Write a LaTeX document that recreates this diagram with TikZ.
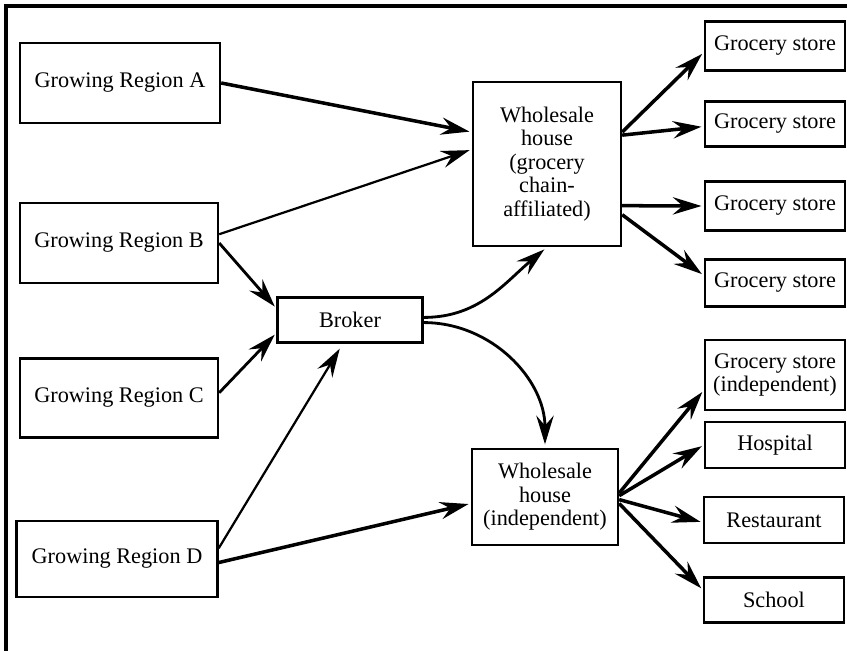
\documentclass[tikz,border=0pt]{standalone}
\usepackage{fontspec}
\setmainfont{Liberation Serif}
\usepackage{tikz}
\usetikzlibrary{arrows.meta}

\begin{document}
\begin{tikzpicture}[x=0.03cm, y=0.03cm,
  box/.style={rectangle, draw, line width=2pt, align=center, font=\fontsize{19}{20}\selectfont, inner sep=2pt},
  outlet/.style={box, minimum width=4.2cm},
  >={Stealth[length=8.6mm, width=5.2mm, inset=3mm]},
  heavy/.style={->, line width=3pt, shorten >=2pt},
  mid/.style={->, line width=2.4pt, shorten >=2pt},
  light/.style={->, line width=1.9pt, shorten >=2pt}
]
  \useasboundingbox (0,0) rectangle (847,-651);
  \draw[line width=3pt] (6,-651) -- (6,-6) -- (847,-6);

  \node[box, minimum width=6cm, minimum height=2.4cm] (regionA) at (120,-83) {Growing Region A};
  \node[box, minimum width=5.94cm, minimum height=2.4cm] (regionB) at (119,-243) {Growing Region B};
  \node[box, minimum width=5.94cm, minimum height=2.37cm] (regionC) at (119,-398) {Growing Region C};
  \node[box, minimum width=6.03cm, minimum height=2.28cm] (regionD) at (117,-559) {Growing Region D};
  \node[box, minimum width=4.35cm, minimum height=1.35cm] (broker) at (350,-320) {Broker};
  \node[box, minimum width=4.44cm, minimum height=4.92cm] (chain) at (547,-164) {Wholesale\\house\\(grocery\\chain-\\affiliated)};
  \node[box, minimum width=4.38cm, minimum height=2.88cm] (indep) at (545,-497) {Wholesale\\house\\(independent)};

  \node[outlet, minimum height=1.47cm] (store1) at (775,-46) {Grocery store};
  \node[outlet, minimum height=1.35cm] (store2) at (775,-124) {Grocery store};
  \node[outlet, minimum height=1.47cm] (store3) at (775,-206) {Grocery store};
  \node[outlet, minimum height=1.41cm] (store4) at (775,-283) {Grocery store};
  \node[outlet, minimum height=2.1cm] (storeInd) at (775,-375) {Grocery store\\(independent)};
  \node[outlet, minimum height=1.38cm] (hospital) at (775,-445) {Hospital};
  \node[outlet, minimum height=1.38cm] (restaurant) at (774,-520) {Restaurant};
  \node[outlet, minimum height=1.35cm] (school) at (774,-600) {School};

  \draw[heavy] (regionA.east) -- (chain.157);
  \draw[light] (regionB.5) -- (chain.169);
  \draw[mid] (regionB.east) -- (broker.171);
  \draw[mid] (regionC.3) -- (broker.190);
  \draw[light, shorten >=5pt] (regionD.6) -- (broker.253);
  \draw[heavy] (regionD.358) -- (indep.185);
  \draw[mid, shorten >=3pt] (broker.2) to[out=0, in=-140] (chain.south);
  \draw[mid, shorten >=3pt] (broker.358) to[out=0, in=90] (indep.north);

  \draw[heavy] (chain.23) -- (store1.185);
  \draw[heavy] (chain.21) -- (store2.182);
  \draw[heavy] (chain.-29) -- (store3.west);
  \draw[heavy] (chain.-34) -- (store4.174);
  \draw[heavy] (indep.3) -- (storeInd.192);
  \draw[heavy] (indep.1) -- (hospital.west);
  \draw[heavy] (indep.-2) -- (restaurant.182);
  \draw[heavy] (indep.-5) -- (school.172);
\end{tikzpicture}
\end{document}
